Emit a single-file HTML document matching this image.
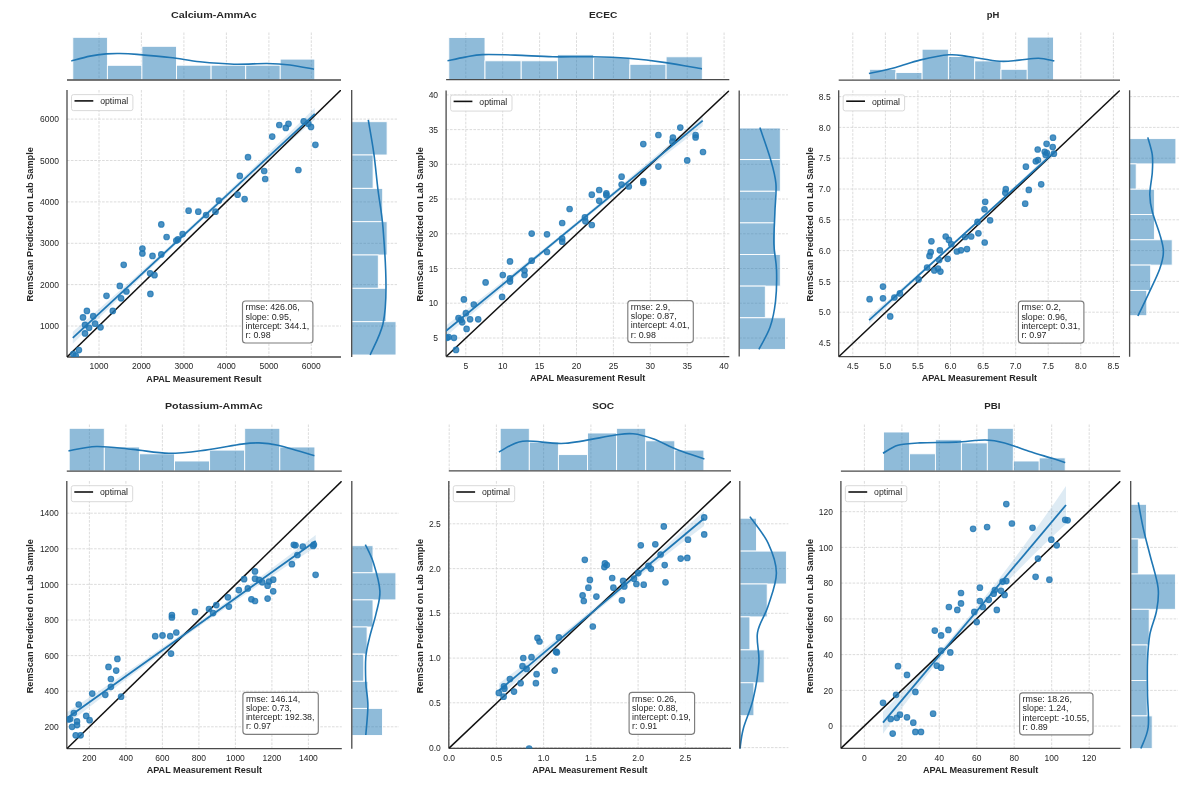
<!DOCTYPE html>
<html><head><meta charset="utf-8"><style>
html,body{margin:0;padding:0;background:#fff;}
svg{display:block;filter:blur(0.45px);}
</style></head><body>
<svg width="1197" height="785" viewBox="0 0 1197 785" font-family='"Liberation Sans", sans-serif'>
<rect width="1197" height="785" fill="#fff"/>
<text x="213.9" y="18.0" font-size="9.9" textLength="85.9" lengthAdjust="spacingAndGlyphs" font-weight="bold" text-anchor="middle" fill="#262626">Calcium-AmmAc</text>
<path d="M99.0,90.0V357.0M99.0,32.5V80.0M141.4,90.0V357.0M141.4,32.5V80.0M183.9,90.0V357.0M183.9,32.5V80.0M226.4,90.0V357.0M226.4,32.5V80.0M268.9,90.0V357.0M268.9,32.5V80.0M311.3,90.0V357.0M311.3,32.5V80.0M67.0,326.0H341.0M351.7,326.0H397.0M67.0,284.6H341.0M351.7,284.6H397.0M67.0,243.3H341.0M351.7,243.3H397.0M67.0,201.9H341.0M351.7,201.9H397.0M67.0,160.5H341.0M351.7,160.5H397.0M67.0,119.1H341.0M351.7,119.1H397.0" stroke="#d8d8d8" stroke-width="0.9" stroke-dasharray="2.6 1.3" fill="none"/>
<rect x="72.8" y="37.3" width="34.6" height="42.7" fill="#1f77b4" fill-opacity="0.5" stroke="#fff" stroke-width="0.9"/>
<rect x="107.4" y="65.3" width="34.6" height="14.7" fill="#1f77b4" fill-opacity="0.5" stroke="#fff" stroke-width="0.9"/>
<rect x="141.9" y="46.3" width="34.6" height="33.7" fill="#1f77b4" fill-opacity="0.5" stroke="#fff" stroke-width="0.9"/>
<rect x="176.5" y="65.2" width="34.6" height="14.8" fill="#1f77b4" fill-opacity="0.5" stroke="#fff" stroke-width="0.9"/>
<rect x="211.1" y="65.2" width="34.6" height="14.8" fill="#1f77b4" fill-opacity="0.5" stroke="#fff" stroke-width="0.9"/>
<rect x="245.7" y="65.2" width="34.6" height="14.8" fill="#1f77b4" fill-opacity="0.5" stroke="#fff" stroke-width="0.9"/>
<rect x="280.2" y="59.1" width="34.6" height="20.9" fill="#1f77b4" fill-opacity="0.5" stroke="#fff" stroke-width="0.9"/>
<path d="M71.3,60.9 C74.4,60.1 84.2,57.3 90.0,56.1 C95.8,54.9 101.0,54.3 106.0,53.9 C111.0,53.5 114.8,53.4 120.0,53.5 C125.2,53.6 128.7,53.7 137.0,54.4 C145.3,55.1 159.5,56.3 170.0,57.5 C180.5,58.7 189.3,60.7 200.0,61.8 C210.7,62.9 222.8,63.9 234.0,64.2 C245.2,64.5 257.7,63.4 267.0,63.5 C276.3,63.6 282.2,64.0 290.0,65.0 C297.8,66.0 310.0,68.5 314.0,69.2" stroke="#1f77b4" stroke-width="1.6" fill="none"/>
<rect x="351.7" y="121.7" width="35.4" height="33.3" fill="#1f77b4" fill-opacity="0.5" stroke="#fff" stroke-width="0.9"/>
<rect x="351.7" y="155.0" width="21.4" height="33.3" fill="#1f77b4" fill-opacity="0.5" stroke="#fff" stroke-width="0.9"/>
<rect x="351.7" y="188.4" width="31.0" height="33.3" fill="#1f77b4" fill-opacity="0.5" stroke="#fff" stroke-width="0.9"/>
<rect x="351.7" y="221.7" width="35.4" height="33.3" fill="#1f77b4" fill-opacity="0.5" stroke="#fff" stroke-width="0.9"/>
<rect x="351.7" y="255.0" width="26.6" height="33.3" fill="#1f77b4" fill-opacity="0.5" stroke="#fff" stroke-width="0.9"/>
<rect x="351.7" y="288.3" width="34.3" height="33.3" fill="#1f77b4" fill-opacity="0.5" stroke="#fff" stroke-width="0.9"/>
<rect x="351.7" y="321.7" width="44.3" height="33.3" fill="#1f77b4" fill-opacity="0.5" stroke="#fff" stroke-width="0.9"/>
<path d="M368.3,119.9 C369.2,125.6 372.3,142.2 373.9,153.9 C375.5,165.6 376.5,177.7 378.0,190.0 C379.5,202.3 381.7,211.6 383.0,227.7 C384.3,243.8 386.0,270.8 386.0,286.8 C386.0,302.8 385.6,312.3 383.0,323.7 C380.4,335.1 372.3,349.8 370.2,355.0" stroke="#1f77b4" stroke-width="1.6" fill="none"/>
<path d="M67.0,357.0H341.0 M67.0,90.0V357.0 M67.0,80.0H341.0 M351.7,90.0V357.0" stroke="#4a4a4a" stroke-width="1.3" fill="none"/>
<clipPath id="c1"><rect x="67.0" y="90.0" width="274.0" height="267.0"/></clipPath>
<g clip-path="url(#c1)">
<path d="M72.8,331.8 L87.9,318.7 L103.0,305.5 L118.2,292.1 L133.3,278.7 L148.4,265.1 L163.6,251.4 L178.7,237.5 L193.8,223.6 L208.9,209.5 L224.1,195.4 L239.2,181.1 L254.3,166.7 L269.4,152.1 L284.6,137.5 L299.7,122.7 L314.8,107.8 L314.8,119.8 L299.7,132.9 L284.6,146.1 L269.4,159.5 L254.3,173.0 L239.2,186.5 L224.1,200.2 L208.9,214.1 L193.8,228.0 L178.7,242.1 L163.6,256.2 L148.4,270.5 L133.3,284.9 L118.2,299.5 L103.0,314.1 L87.9,328.9 L72.8,343.8Z" fill="#1f77b4" fill-opacity="0.15" stroke="none"/>
<path d="M67.0,357.0L341.0,90.0" stroke="#111" stroke-width="1.5"/>
<g fill="#1f77b4" fill-opacity="0.8" stroke="#1f77b4" stroke-opacity="0.8" stroke-width="1.1"><circle cx="279.3" cy="125.0" r="2.8"/><circle cx="285.8" cy="127.9" r="2.8"/><circle cx="288.5" cy="123.8" r="2.8"/><circle cx="303.7" cy="121.3" r="2.8"/><circle cx="308.3" cy="123.8" r="2.8"/><circle cx="311.0" cy="126.9" r="2.8"/><circle cx="272.2" cy="136.6" r="2.8"/><circle cx="315.4" cy="144.8" r="2.8"/><circle cx="248.0" cy="157.2" r="2.8"/><circle cx="264.2" cy="171.0" r="2.8"/><circle cx="265.2" cy="179.0" r="2.8"/><circle cx="298.4" cy="170.0" r="2.8"/><circle cx="239.8" cy="175.9" r="2.8"/><circle cx="237.6" cy="194.7" r="2.8"/><circle cx="244.6" cy="199.1" r="2.8"/><circle cx="218.9" cy="200.6" r="2.8"/><circle cx="215.5" cy="211.7" r="2.8"/><circle cx="206.1" cy="215.1" r="2.8"/><circle cx="198.3" cy="211.7" r="2.8"/><circle cx="188.6" cy="210.7" r="2.8"/><circle cx="161.3" cy="224.4" r="2.8"/><circle cx="166.6" cy="237.0" r="2.8"/><circle cx="176.3" cy="240.6" r="2.8"/><circle cx="178.0" cy="239.4" r="2.8"/><circle cx="182.6" cy="234.1" r="2.8"/><circle cx="142.4" cy="248.6" r="2.8"/><circle cx="142.4" cy="253.4" r="2.8"/><circle cx="152.5" cy="255.9" r="2.8"/><circle cx="161.3" cy="254.4" r="2.8"/><circle cx="123.7" cy="264.8" r="2.8"/><circle cx="150.1" cy="273.3" r="2.8"/><circle cx="154.5" cy="275.2" r="2.8"/><circle cx="119.8" cy="285.9" r="2.8"/><circle cx="126.4" cy="291.5" r="2.8"/><circle cx="121.1" cy="298.3" r="2.8"/><circle cx="150.4" cy="293.9" r="2.8"/><circle cx="106.5" cy="295.8" r="2.8"/><circle cx="112.8" cy="310.9" r="2.8"/><circle cx="86.9" cy="310.9" r="2.8"/><circle cx="83.0" cy="317.4" r="2.8"/><circle cx="93.2" cy="316.2" r="2.8"/><circle cx="85.0" cy="324.9" r="2.8"/><circle cx="89.1" cy="327.8" r="2.8"/><circle cx="95.1" cy="323.7" r="2.8"/><circle cx="100.5" cy="327.3" r="2.8"/><circle cx="85.0" cy="333.4" r="2.8"/><circle cx="78.9" cy="350.1" r="2.8"/><circle cx="73.3" cy="354.0" r="2.8"/><circle cx="75.7" cy="355.7" r="2.8"/></g>
<path d="M72.8,337.8L314.8,113.8" stroke="#1f77b4" stroke-width="1.8"/>
</g>
<text x="99.0" y="369.3" font-size="8.5" text-anchor="middle" fill="#262626">1000</text>
<text x="141.4" y="369.3" font-size="8.5" text-anchor="middle" fill="#262626">2000</text>
<text x="183.9" y="369.3" font-size="8.5" text-anchor="middle" fill="#262626">3000</text>
<text x="226.4" y="369.3" font-size="8.5" text-anchor="middle" fill="#262626">4000</text>
<text x="268.9" y="369.3" font-size="8.5" text-anchor="middle" fill="#262626">5000</text>
<text x="311.3" y="369.3" font-size="8.5" text-anchor="middle" fill="#262626">6000</text>
<text x="59.0" y="329.1" font-size="8.5" text-anchor="end" fill="#262626">1000</text>
<text x="59.0" y="287.7" font-size="8.5" text-anchor="end" fill="#262626">2000</text>
<text x="59.0" y="246.4" font-size="8.5" text-anchor="end" fill="#262626">3000</text>
<text x="59.0" y="205.0" font-size="8.5" text-anchor="end" fill="#262626">4000</text>
<text x="59.0" y="163.6" font-size="8.5" text-anchor="end" fill="#262626">5000</text>
<text x="59.0" y="122.2" font-size="8.5" text-anchor="end" fill="#262626">6000</text>
<text x="204.0" y="381.5" font-size="8.5" textLength="115.3" lengthAdjust="spacingAndGlyphs" font-weight="bold" text-anchor="middle" fill="#262626">APAL Measurement Result</text>
<text transform="translate(32.6,224.3) rotate(-90)" font-size="9.0" textLength="154.3" lengthAdjust="spacingAndGlyphs" font-weight="bold" text-anchor="middle" fill="#262626">RemScan Predicted on Lab Sample</text>
<rect x="71.5" y="94.6" width="61.4" height="16" rx="2" fill="#fff" fill-opacity="0.85" stroke="#d5d5d5" stroke-width="0.9"/>
<path d="M74.5,100.9h18.8" stroke="#111" stroke-width="1.6"/>
<text x="100.2" y="104.2" font-size="8.7" fill="#262626">optimal</text>
<rect x="242.5" y="301.0" width="70.4" height="42.0" rx="3" fill="#fff" fill-opacity="0.9" stroke="#7d7d7d" stroke-width="1.15"/>
<text x="245.5" y="310.3" font-size="8.9" fill="#262626">rmse: 426.06,</text>
<text x="245.5" y="319.6" font-size="8.9" fill="#262626">slope: 0.95,</text>
<text x="245.5" y="328.8" font-size="8.9" fill="#262626">intercept: 344.1,</text>
<text x="245.5" y="338.1" font-size="8.9" fill="#262626">r: 0.98</text>
<text x="603.2" y="18.0" font-size="9.9" textLength="28.2" lengthAdjust="spacingAndGlyphs" font-weight="bold" text-anchor="middle" fill="#262626">ECEC</text>
<path d="M465.8,90.5V356.6M465.8,32.5V79.6M502.7,90.5V356.6M502.7,32.5V79.6M539.6,90.5V356.6M539.6,32.5V79.6M576.5,90.5V356.6M576.5,32.5V79.6M613.4,90.5V356.6M613.4,32.5V79.6M650.3,90.5V356.6M650.3,32.5V79.6M687.2,90.5V356.6M687.2,32.5V79.6M724.1,90.5V356.6M724.1,32.5V79.6M446.1,338.0H729.3M739.2,338.0H788.0M446.1,303.2H729.3M739.2,303.2H788.0M446.1,268.5H729.3M739.2,268.5H788.0M446.1,233.8H729.3M739.2,233.8H788.0M446.1,199.0H729.3M739.2,199.0H788.0M446.1,164.3H729.3M739.2,164.3H788.0M446.1,129.6H729.3M739.2,129.6H788.0M446.1,94.9H729.3M739.2,94.9H788.0" stroke="#d8d8d8" stroke-width="0.9" stroke-dasharray="2.6 1.3" fill="none"/>
<rect x="448.8" y="37.5" width="36.2" height="42.1" fill="#1f77b4" fill-opacity="0.5" stroke="#fff" stroke-width="0.9"/>
<rect x="485.0" y="60.8" width="36.2" height="18.8" fill="#1f77b4" fill-opacity="0.5" stroke="#fff" stroke-width="0.9"/>
<rect x="521.2" y="60.8" width="36.2" height="18.8" fill="#1f77b4" fill-opacity="0.5" stroke="#fff" stroke-width="0.9"/>
<rect x="557.4" y="54.6" width="36.2" height="25.0" fill="#1f77b4" fill-opacity="0.5" stroke="#fff" stroke-width="0.9"/>
<rect x="593.7" y="57.6" width="36.2" height="22.0" fill="#1f77b4" fill-opacity="0.5" stroke="#fff" stroke-width="0.9"/>
<rect x="629.9" y="64.3" width="36.2" height="15.3" fill="#1f77b4" fill-opacity="0.5" stroke="#fff" stroke-width="0.9"/>
<rect x="666.1" y="56.8" width="36.2" height="22.8" fill="#1f77b4" fill-opacity="0.5" stroke="#fff" stroke-width="0.9"/>
<path d="M447.5,60.8 C450.4,60.2 459.2,58.1 465.1,57.1 C471.0,56.1 474.2,54.9 482.6,54.6 C491.0,54.3 503.5,54.7 515.2,55.1 C526.9,55.5 540.3,56.5 552.8,56.8 C565.3,57.1 577.9,56.5 590.4,56.8 C602.9,57.0 615.5,57.3 628.0,58.3 C640.5,59.3 653.3,60.8 665.6,62.6 C677.9,64.4 695.9,67.9 701.9,68.9" stroke="#1f77b4" stroke-width="1.6" fill="none"/>
<rect x="739.2" y="128.0" width="41.1" height="31.6" fill="#1f77b4" fill-opacity="0.5" stroke="#fff" stroke-width="0.9"/>
<rect x="739.2" y="159.6" width="41.1" height="31.6" fill="#1f77b4" fill-opacity="0.5" stroke="#fff" stroke-width="0.9"/>
<rect x="739.2" y="191.3" width="36.3" height="31.6" fill="#1f77b4" fill-opacity="0.5" stroke="#fff" stroke-width="0.9"/>
<rect x="739.2" y="222.9" width="36.3" height="31.6" fill="#1f77b4" fill-opacity="0.5" stroke="#fff" stroke-width="0.9"/>
<rect x="739.2" y="254.5" width="41.1" height="31.6" fill="#1f77b4" fill-opacity="0.5" stroke="#fff" stroke-width="0.9"/>
<rect x="739.2" y="286.1" width="26.1" height="31.6" fill="#1f77b4" fill-opacity="0.5" stroke="#fff" stroke-width="0.9"/>
<rect x="739.2" y="317.8" width="46.3" height="31.6" fill="#1f77b4" fill-opacity="0.5" stroke="#fff" stroke-width="0.9"/>
<path d="M759.9,127.6 C761.6,132.7 767.4,148.6 770.1,157.9 C772.8,167.2 775.1,174.4 775.9,183.4 C776.7,192.4 775.2,202.0 774.9,212.1 C774.6,222.2 773.6,234.5 773.9,244.1 C774.2,253.7 776.2,260.0 776.5,269.6 C776.8,279.2 776.6,291.9 775.5,301.5 C774.4,311.1 772.9,319.0 770.1,327.0 C767.3,335.0 760.8,345.7 758.9,349.4" stroke="#1f77b4" stroke-width="1.6" fill="none"/>
<path d="M446.1,356.6H729.3 M446.1,90.5V356.6 M446.1,79.6H729.3 M739.2,90.5V356.6" stroke="#4a4a4a" stroke-width="1.3" fill="none"/>
<clipPath id="c2"><rect x="446.1" y="90.5" width="283.2" height="266.1"/></clipPath>
<g clip-path="url(#c2)">
<path d="M445.9,325.5 L461.9,313.2 L478.0,300.7 L494.1,288.2 L510.1,275.5 L526.1,262.8 L542.2,249.9 L558.2,236.9 L574.3,223.8 L590.4,210.6 L606.4,197.3 L622.5,183.9 L638.5,170.3 L654.6,156.7 L670.6,142.9 L686.7,129.1 L702.7,115.1 L702.7,126.1 L686.7,138.4 L670.6,150.9 L654.6,163.4 L638.5,176.1 L622.5,188.8 L606.4,201.7 L590.4,214.7 L574.3,227.8 L558.2,241.0 L542.2,254.3 L526.1,267.7 L510.1,281.3 L494.1,294.9 L478.0,308.7 L461.9,322.5 L445.9,336.5Z" fill="#1f77b4" fill-opacity="0.15" stroke="none"/>
<path d="M446.1,356.6L729.3,90.5" stroke="#111" stroke-width="1.5"/>
<g fill="#1f77b4" fill-opacity="0.8" stroke="#1f77b4" stroke-opacity="0.8" stroke-width="1.1"><circle cx="680.3" cy="127.6" r="2.8"/><circle cx="658.4" cy="135.0" r="2.8"/><circle cx="672.9" cy="137.5" r="2.8"/><circle cx="672.4" cy="141.7" r="2.8"/><circle cx="695.6" cy="135.0" r="2.8"/><circle cx="695.6" cy="137.5" r="2.8"/><circle cx="643.3" cy="144.1" r="2.8"/><circle cx="703.0" cy="152.0" r="2.8"/><circle cx="687.2" cy="160.4" r="2.8"/><circle cx="658.4" cy="166.6" r="2.8"/><circle cx="621.6" cy="176.7" r="2.8"/><circle cx="621.6" cy="184.6" r="2.8"/><circle cx="628.8" cy="186.5" r="2.8"/><circle cx="643.3" cy="181.1" r="2.8"/><circle cx="643.3" cy="182.8" r="2.8"/><circle cx="599.2" cy="190.0" r="2.8"/><circle cx="591.8" cy="194.7" r="2.8"/><circle cx="606.4" cy="193.4" r="2.8"/><circle cx="606.4" cy="195.2" r="2.8"/><circle cx="599.2" cy="200.8" r="2.8"/><circle cx="569.6" cy="209.0" r="2.8"/><circle cx="562.2" cy="223.0" r="2.8"/><circle cx="584.9" cy="217.3" r="2.8"/><circle cx="585.4" cy="221.3" r="2.8"/><circle cx="591.8" cy="225.0" r="2.8"/><circle cx="531.7" cy="233.6" r="2.8"/><circle cx="547.0" cy="234.3" r="2.8"/><circle cx="562.2" cy="238.5" r="2.8"/><circle cx="562.2" cy="241.7" r="2.8"/><circle cx="547.0" cy="252.0" r="2.8"/><circle cx="531.7" cy="260.7" r="2.8"/><circle cx="510.0" cy="261.4" r="2.8"/><circle cx="524.5" cy="270.5" r="2.8"/><circle cx="524.5" cy="275.0" r="2.8"/><circle cx="502.8" cy="275.0" r="2.8"/><circle cx="510.0" cy="278.4" r="2.8"/><circle cx="510.0" cy="281.6" r="2.8"/><circle cx="485.6" cy="282.4" r="2.8"/><circle cx="502.1" cy="296.9" r="2.8"/><circle cx="463.9" cy="299.4" r="2.8"/><circle cx="473.8" cy="304.5" r="2.8"/><circle cx="465.9" cy="313.2" r="2.8"/><circle cx="458.5" cy="318.1" r="2.8"/><circle cx="460.9" cy="319.8" r="2.8"/><circle cx="462.2" cy="322.3" r="2.8"/><circle cx="470.1" cy="319.3" r="2.8"/><circle cx="478.2" cy="319.3" r="2.8"/><circle cx="466.6" cy="328.9" r="2.8"/><circle cx="448.6" cy="337.1" r="2.8"/><circle cx="454.0" cy="337.8" r="2.8"/><circle cx="446.9" cy="337.8" r="2.8"/><circle cx="456.0" cy="349.9" r="2.8"/></g>
<path d="M445.9,331.0L702.7,120.6" stroke="#1f77b4" stroke-width="1.8"/>
</g>
<text x="465.8" y="368.9" font-size="8.5" text-anchor="middle" fill="#262626">5</text>
<text x="502.7" y="368.9" font-size="8.5" text-anchor="middle" fill="#262626">10</text>
<text x="539.6" y="368.9" font-size="8.5" text-anchor="middle" fill="#262626">15</text>
<text x="576.5" y="368.9" font-size="8.5" text-anchor="middle" fill="#262626">20</text>
<text x="613.4" y="368.9" font-size="8.5" text-anchor="middle" fill="#262626">25</text>
<text x="650.3" y="368.9" font-size="8.5" text-anchor="middle" fill="#262626">30</text>
<text x="687.2" y="368.9" font-size="8.5" text-anchor="middle" fill="#262626">35</text>
<text x="724.1" y="368.9" font-size="8.5" text-anchor="middle" fill="#262626">40</text>
<text x="438.1" y="341.1" font-size="8.5" text-anchor="end" fill="#262626">5</text>
<text x="438.1" y="306.3" font-size="8.5" text-anchor="end" fill="#262626">10</text>
<text x="438.1" y="271.6" font-size="8.5" text-anchor="end" fill="#262626">15</text>
<text x="438.1" y="236.9" font-size="8.5" text-anchor="end" fill="#262626">20</text>
<text x="438.1" y="202.1" font-size="8.5" text-anchor="end" fill="#262626">25</text>
<text x="438.1" y="167.4" font-size="8.5" text-anchor="end" fill="#262626">30</text>
<text x="438.1" y="132.7" font-size="8.5" text-anchor="end" fill="#262626">35</text>
<text x="438.1" y="98.0" font-size="8.5" text-anchor="end" fill="#262626">40</text>
<text x="587.7" y="381.1" font-size="8.5" textLength="115.3" lengthAdjust="spacingAndGlyphs" font-weight="bold" text-anchor="middle" fill="#262626">APAL Measurement Result</text>
<text transform="translate(422.6,224.3) rotate(-90)" font-size="9.0" textLength="154.3" lengthAdjust="spacingAndGlyphs" font-weight="bold" text-anchor="middle" fill="#262626">RemScan Predicted on Lab Sample</text>
<rect x="450.6" y="95.1" width="61.4" height="16" rx="2" fill="#fff" fill-opacity="0.85" stroke="#d5d5d5" stroke-width="0.9"/>
<path d="M453.6,101.4h18.8" stroke="#111" stroke-width="1.6"/>
<text x="479.3" y="104.7" font-size="8.7" fill="#262626">optimal</text>
<rect x="627.8" y="300.6" width="65.5" height="42.0" rx="3" fill="#fff" fill-opacity="0.9" stroke="#7d7d7d" stroke-width="1.15"/>
<text x="630.8" y="309.9" font-size="8.9" fill="#262626">rmse: 2.9,</text>
<text x="630.8" y="319.2" font-size="8.9" fill="#262626">slope: 0.87,</text>
<text x="630.8" y="328.4" font-size="8.9" fill="#262626">intercept: 4.01,</text>
<text x="630.8" y="337.7" font-size="8.9" fill="#262626">r: 0.98</text>
<text x="993.0" y="18.0" font-size="9.9" textLength="12.6" lengthAdjust="spacingAndGlyphs" font-weight="bold" text-anchor="middle" fill="#262626">pH</text>
<path d="M852.8,90.3V356.7M852.8,32.5V80.1M885.4,90.3V356.7M885.4,32.5V80.1M917.9,90.3V356.7M917.9,32.5V80.1M950.5,90.3V356.7M950.5,32.5V80.1M983.1,90.3V356.7M983.1,32.5V80.1M1015.7,90.3V356.7M1015.7,32.5V80.1M1048.2,90.3V356.7M1048.2,32.5V80.1M1080.8,90.3V356.7M1080.8,32.5V80.1M1113.4,90.3V356.7M1113.4,32.5V80.1M838.7,343.0H1120.0M1129.6,343.0H1179.0M838.7,312.2H1120.0M1129.6,312.2H1179.0M838.7,281.4H1120.0M1129.6,281.4H1179.0M838.7,250.6H1120.0M1129.6,250.6H1179.0M838.7,219.8H1120.0M1129.6,219.8H1179.0M838.7,189.0H1120.0M1129.6,189.0H1179.0M838.7,158.2H1120.0M1129.6,158.2H1179.0M838.7,127.4H1120.0M1129.6,127.4H1179.0M838.7,96.6H1120.0M1129.6,96.6H1179.0" stroke="#d8d8d8" stroke-width="0.9" stroke-dasharray="2.6 1.3" fill="none"/>
<rect x="869.6" y="69.3" width="26.3" height="10.8" fill="#1f77b4" fill-opacity="0.5" stroke="#fff" stroke-width="0.9"/>
<rect x="895.9" y="72.5" width="26.3" height="7.6" fill="#1f77b4" fill-opacity="0.5" stroke="#fff" stroke-width="0.9"/>
<rect x="922.1" y="49.2" width="26.3" height="30.9" fill="#1f77b4" fill-opacity="0.5" stroke="#fff" stroke-width="0.9"/>
<rect x="948.4" y="56.5" width="26.3" height="23.6" fill="#1f77b4" fill-opacity="0.5" stroke="#fff" stroke-width="0.9"/>
<rect x="974.7" y="60.9" width="26.3" height="19.2" fill="#1f77b4" fill-opacity="0.5" stroke="#fff" stroke-width="0.9"/>
<rect x="1001.0" y="69.3" width="26.3" height="10.8" fill="#1f77b4" fill-opacity="0.5" stroke="#fff" stroke-width="0.9"/>
<rect x="1027.2" y="37.1" width="26.3" height="43.0" fill="#1f77b4" fill-opacity="0.5" stroke="#fff" stroke-width="0.9"/>
<path d="M868.9,73.5 C873.4,72.5 887.1,69.6 895.6,67.4 C904.1,65.2 910.9,62.2 919.8,60.1 C928.7,58.0 940.8,55.4 948.9,54.8 C957.0,54.2 959.7,55.4 968.2,56.5 C976.7,57.6 991.2,60.7 999.7,61.3 C1008.2,61.9 1012.6,60.6 1019.1,60.1 C1025.6,59.6 1032.6,58.1 1038.5,58.2 C1044.4,58.3 1051.7,60.5 1054.3,60.9" stroke="#1f77b4" stroke-width="1.6" fill="none"/>
<rect x="1129.6" y="138.6" width="46.3" height="25.3" fill="#1f77b4" fill-opacity="0.5" stroke="#fff" stroke-width="0.9"/>
<rect x="1129.6" y="163.9" width="6.6" height="25.3" fill="#1f77b4" fill-opacity="0.5" stroke="#fff" stroke-width="0.9"/>
<rect x="1129.6" y="189.2" width="24.8" height="25.3" fill="#1f77b4" fill-opacity="0.5" stroke="#fff" stroke-width="0.9"/>
<rect x="1129.6" y="214.5" width="24.8" height="25.3" fill="#1f77b4" fill-opacity="0.5" stroke="#fff" stroke-width="0.9"/>
<rect x="1129.6" y="239.8" width="42.6" height="25.3" fill="#1f77b4" fill-opacity="0.5" stroke="#fff" stroke-width="0.9"/>
<rect x="1129.6" y="265.1" width="21.1" height="25.3" fill="#1f77b4" fill-opacity="0.5" stroke="#fff" stroke-width="0.9"/>
<rect x="1129.6" y="290.4" width="17.2" height="25.3" fill="#1f77b4" fill-opacity="0.5" stroke="#fff" stroke-width="0.9"/>
<path d="M1147.8,137.4 C1148.5,140.3 1151.5,149.0 1152.3,154.8 C1153.0,160.6 1152.7,165.6 1152.3,172.2 C1151.9,178.8 1149.8,187.9 1149.8,194.5 C1149.8,201.1 1150.6,205.2 1152.3,211.8 C1154.0,218.4 1157.8,227.5 1159.7,234.1 C1161.6,240.7 1163.4,245.7 1163.4,251.5 C1163.4,257.3 1162.2,261.9 1159.7,268.9 C1157.2,275.9 1152.2,285.8 1148.6,293.6 C1145.0,301.5 1139.7,312.3 1137.9,316.0" stroke="#1f77b4" stroke-width="1.6" fill="none"/>
<path d="M838.7,356.7H1120.0 M838.7,90.3V356.7 M838.7,80.1H1120.0 M1129.6,90.3V356.7" stroke="#4a4a4a" stroke-width="1.3" fill="none"/>
<clipPath id="c3"><rect x="838.7" y="90.3" width="281.3" height="266.4"/></clipPath>
<g clip-path="url(#c3)">
<path d="M869.1,316.4 L880.7,306.4 L892.3,296.4 L903.9,286.3 L915.5,276.1 L927.1,265.8 L938.7,255.5 L950.3,245.1 L962.0,234.6 L973.6,224.1 L985.2,213.5 L996.8,202.9 L1008.4,192.1 L1020.0,181.3 L1031.6,170.4 L1043.2,159.5 L1054.8,148.5 L1054.8,154.9 L1043.2,165.0 L1031.6,175.1 L1020.0,185.3 L1008.4,195.5 L996.8,205.9 L985.2,216.2 L973.6,226.7 L962.0,237.2 L950.3,247.9 L938.7,258.5 L927.1,269.3 L915.5,280.1 L903.9,291.0 L892.3,301.9 L880.7,312.9 L869.1,324.0Z" fill="#1f77b4" fill-opacity="0.15" stroke="none"/>
<path d="M838.7,356.7L1120.0,90.3" stroke="#111" stroke-width="1.5"/>
<g fill="#1f77b4" fill-opacity="0.8" stroke="#1f77b4" stroke-opacity="0.8" stroke-width="1.1"><circle cx="1053.0" cy="137.7" r="2.8"/><circle cx="1046.6" cy="143.8" r="2.8"/><circle cx="1037.7" cy="149.5" r="2.8"/><circle cx="1044.7" cy="151.8" r="2.8"/><circle cx="1046.9" cy="153.0" r="2.8"/><circle cx="1052.7" cy="147.0" r="2.8"/><circle cx="1053.9" cy="153.7" r="2.8"/><circle cx="1045.7" cy="154.9" r="2.8"/><circle cx="1035.8" cy="161.3" r="2.8"/><circle cx="1038.0" cy="160.0" r="2.8"/><circle cx="1025.9" cy="166.7" r="2.8"/><circle cx="1041.2" cy="184.3" r="2.8"/><circle cx="1028.8" cy="189.9" r="2.8"/><circle cx="1025.2" cy="203.7" r="2.8"/><circle cx="1005.8" cy="189.2" r="2.8"/><circle cx="1005.3" cy="192.8" r="2.8"/><circle cx="985.2" cy="201.8" r="2.8"/><circle cx="984.5" cy="209.3" r="2.8"/><circle cx="990.1" cy="220.3" r="2.8"/><circle cx="977.5" cy="221.9" r="2.8"/><circle cx="978.4" cy="233.3" r="2.8"/><circle cx="984.7" cy="242.5" r="2.8"/><circle cx="971.2" cy="236.5" r="2.8"/><circle cx="965.1" cy="237.0" r="2.8"/><circle cx="945.7" cy="236.5" r="2.8"/><circle cx="948.9" cy="239.9" r="2.8"/><circle cx="951.3" cy="244.2" r="2.8"/><circle cx="931.4" cy="241.3" r="2.8"/><circle cx="930.7" cy="252.2" r="2.8"/><circle cx="929.5" cy="255.9" r="2.8"/><circle cx="939.9" cy="250.3" r="2.8"/><circle cx="947.7" cy="258.8" r="2.8"/><circle cx="956.9" cy="251.5" r="2.8"/><circle cx="961.0" cy="250.3" r="2.8"/><circle cx="967.0" cy="249.1" r="2.8"/><circle cx="939.2" cy="260.0" r="2.8"/><circle cx="938.0" cy="268.5" r="2.8"/><circle cx="934.3" cy="270.4" r="2.8"/><circle cx="940.4" cy="271.6" r="2.8"/><circle cx="927.1" cy="267.5" r="2.8"/><circle cx="918.6" cy="279.4" r="2.8"/><circle cx="883.0" cy="286.6" r="2.8"/><circle cx="869.6" cy="299.2" r="2.8"/><circle cx="883.0" cy="298.3" r="2.8"/><circle cx="894.4" cy="297.5" r="2.8"/><circle cx="899.9" cy="293.4" r="2.8"/><circle cx="890.2" cy="316.4" r="2.8"/></g>
<path d="M869.1,320.2L1054.8,151.7" stroke="#1f77b4" stroke-width="1.8"/>
</g>
<text x="852.8" y="369.0" font-size="8.5" text-anchor="middle" fill="#262626">4.5</text>
<text x="885.4" y="369.0" font-size="8.5" text-anchor="middle" fill="#262626">5.0</text>
<text x="917.9" y="369.0" font-size="8.5" text-anchor="middle" fill="#262626">5.5</text>
<text x="950.5" y="369.0" font-size="8.5" text-anchor="middle" fill="#262626">6.0</text>
<text x="983.1" y="369.0" font-size="8.5" text-anchor="middle" fill="#262626">6.5</text>
<text x="1015.7" y="369.0" font-size="8.5" text-anchor="middle" fill="#262626">7.0</text>
<text x="1048.2" y="369.0" font-size="8.5" text-anchor="middle" fill="#262626">7.5</text>
<text x="1080.8" y="369.0" font-size="8.5" text-anchor="middle" fill="#262626">8.0</text>
<text x="1113.4" y="369.0" font-size="8.5" text-anchor="middle" fill="#262626">8.5</text>
<text x="830.7" y="346.1" font-size="8.5" text-anchor="end" fill="#262626">4.5</text>
<text x="830.7" y="315.3" font-size="8.5" text-anchor="end" fill="#262626">5.0</text>
<text x="830.7" y="284.5" font-size="8.5" text-anchor="end" fill="#262626">5.5</text>
<text x="830.7" y="253.7" font-size="8.5" text-anchor="end" fill="#262626">6.0</text>
<text x="830.7" y="222.9" font-size="8.5" text-anchor="end" fill="#262626">6.5</text>
<text x="830.7" y="192.1" font-size="8.5" text-anchor="end" fill="#262626">7.0</text>
<text x="830.7" y="161.3" font-size="8.5" text-anchor="end" fill="#262626">7.5</text>
<text x="830.7" y="130.5" font-size="8.5" text-anchor="end" fill="#262626">8.0</text>
<text x="830.7" y="99.7" font-size="8.5" text-anchor="end" fill="#262626">8.5</text>
<text x="979.3" y="381.2" font-size="8.5" textLength="115.3" lengthAdjust="spacingAndGlyphs" font-weight="bold" text-anchor="middle" fill="#262626">APAL Measurement Result</text>
<text transform="translate(813.3,224.3) rotate(-90)" font-size="9.0" textLength="154.3" lengthAdjust="spacingAndGlyphs" font-weight="bold" text-anchor="middle" fill="#262626">RemScan Predicted on Lab Sample</text>
<rect x="843.2" y="94.9" width="61.4" height="16" rx="2" fill="#fff" fill-opacity="0.85" stroke="#d5d5d5" stroke-width="0.9"/>
<path d="M846.2,101.2h18.8" stroke="#111" stroke-width="1.6"/>
<text x="871.9" y="104.5" font-size="8.7" fill="#262626">optimal</text>
<rect x="1018.4" y="301.1" width="65.5" height="42.0" rx="3" fill="#fff" fill-opacity="0.9" stroke="#7d7d7d" stroke-width="1.15"/>
<text x="1021.4" y="310.4" font-size="8.9" fill="#262626">rmse: 0.2,</text>
<text x="1021.4" y="319.7" font-size="8.9" fill="#262626">slope: 0.96,</text>
<text x="1021.4" y="328.9" font-size="8.9" fill="#262626">intercept: 0.31,</text>
<text x="1021.4" y="338.2" font-size="8.9" fill="#262626">r: 0.97</text>
<text x="213.9" y="409.4" font-size="9.9" textLength="97.8" lengthAdjust="spacingAndGlyphs" font-weight="bold" text-anchor="middle" fill="#262626">Potassium-AmmAc</text>
<path d="M89.4,481.1V748.7M89.4,424.5V471.1M125.9,481.1V748.7M125.9,424.5V471.1M162.4,481.1V748.7M162.4,424.5V471.1M198.9,481.1V748.7M198.9,424.5V471.1M235.4,481.1V748.7M235.4,424.5V471.1M271.9,481.1V748.7M271.9,424.5V471.1M308.4,481.1V748.7M308.4,424.5V471.1M66.8,726.8H341.8M351.8,726.8H399.0M66.8,691.2H341.8M351.8,691.2H399.0M66.8,655.6H341.8M351.8,655.6H399.0M66.8,620.0H341.8M351.8,620.0H399.0M66.8,584.4H341.8M351.8,584.4H399.0M66.8,548.8H341.8M351.8,548.8H399.0M66.8,513.2H341.8M351.8,513.2H399.0" stroke="#d8d8d8" stroke-width="0.9" stroke-dasharray="2.6 1.3" fill="none"/>
<rect x="69.2" y="428.3" width="35.1" height="42.8" fill="#1f77b4" fill-opacity="0.5" stroke="#fff" stroke-width="0.9"/>
<rect x="104.3" y="447.0" width="35.1" height="24.1" fill="#1f77b4" fill-opacity="0.5" stroke="#fff" stroke-width="0.9"/>
<rect x="139.4" y="453.8" width="35.1" height="17.3" fill="#1f77b4" fill-opacity="0.5" stroke="#fff" stroke-width="0.9"/>
<rect x="174.5" y="461.0" width="35.1" height="10.1" fill="#1f77b4" fill-opacity="0.5" stroke="#fff" stroke-width="0.9"/>
<rect x="209.6" y="450.1" width="35.1" height="21.0" fill="#1f77b4" fill-opacity="0.5" stroke="#fff" stroke-width="0.9"/>
<rect x="244.7" y="428.3" width="35.1" height="42.8" fill="#1f77b4" fill-opacity="0.5" stroke="#fff" stroke-width="0.9"/>
<rect x="279.8" y="447.0" width="35.1" height="24.1" fill="#1f77b4" fill-opacity="0.5" stroke="#fff" stroke-width="0.9"/>
<path d="M68.5,450.9 C73.1,450.2 85.6,446.8 96.3,446.5 C107.0,446.2 120.6,448.3 132.7,449.4 C144.8,450.5 156.9,453.2 169.0,453.3 C181.1,453.4 193.3,451.6 205.4,450.1 C217.5,448.6 232.8,445.3 241.7,444.1 C250.6,442.9 252.6,442.7 258.7,442.9 C264.8,443.1 268.7,443.2 278.0,445.3 C287.3,447.4 308.3,454.0 314.4,455.7" stroke="#1f77b4" stroke-width="1.6" fill="none"/>
<rect x="351.8" y="545.7" width="21.2" height="27.1" fill="#1f77b4" fill-opacity="0.5" stroke="#fff" stroke-width="0.9"/>
<rect x="351.8" y="572.8" width="44.1" height="27.1" fill="#1f77b4" fill-opacity="0.5" stroke="#fff" stroke-width="0.9"/>
<rect x="351.8" y="599.9" width="21.2" height="27.1" fill="#1f77b4" fill-opacity="0.5" stroke="#fff" stroke-width="0.9"/>
<rect x="351.8" y="627.0" width="15.3" height="27.1" fill="#1f77b4" fill-opacity="0.5" stroke="#fff" stroke-width="0.9"/>
<rect x="351.8" y="654.2" width="12.0" height="27.1" fill="#1f77b4" fill-opacity="0.5" stroke="#fff" stroke-width="0.9"/>
<rect x="351.8" y="681.3" width="16.1" height="27.1" fill="#1f77b4" fill-opacity="0.5" stroke="#fff" stroke-width="0.9"/>
<rect x="351.8" y="708.4" width="30.7" height="27.1" fill="#1f77b4" fill-opacity="0.5" stroke="#fff" stroke-width="0.9"/>
<path d="M365.3,544.6 C366.7,547.6 371.1,555.2 373.5,562.9 C375.9,570.6 379.5,582.5 379.9,591.0 C380.3,599.5 377.7,606.2 376.0,613.9 C374.3,621.5 371.4,629.7 369.7,636.9 C368.0,644.1 366.4,649.7 365.8,657.3 C365.2,664.9 365.5,674.6 365.8,682.7 C366.1,690.8 367.9,697.0 367.9,705.7 C367.9,714.4 366.1,730.1 365.8,735.0" stroke="#1f77b4" stroke-width="1.6" fill="none"/>
<path d="M66.8,748.7H341.8 M66.8,481.1V748.7 M66.8,471.1H341.8 M351.8,481.1V748.7" stroke="#4a4a4a" stroke-width="1.3" fill="none"/>
<clipPath id="c4"><rect x="66.8" y="481.1" width="275.0" height="267.6"/></clipPath>
<g clip-path="url(#c4)">
<path d="M66.8,712.3 L82.4,702.0 L97.9,691.7 L113.5,681.2 L129.0,670.6 L144.6,659.9 L160.1,649.1 L175.7,638.2 L191.2,627.1 L206.8,616.0 L222.4,604.8 L237.9,593.4 L253.5,582.0 L269.0,570.4 L284.6,558.7 L300.1,546.9 L315.7,535.0 L315.7,547.0 L300.1,557.3 L284.6,567.6 L269.0,578.1 L253.5,588.7 L237.9,599.4 L222.4,610.2 L206.8,621.1 L191.2,632.1 L175.7,643.3 L160.1,654.5 L144.6,665.9 L129.0,677.3 L113.5,688.9 L97.9,700.6 L82.4,712.4 L66.8,724.3Z" fill="#1f77b4" fill-opacity="0.15" stroke="none"/>
<path d="M66.8,748.7L341.8,481.1" stroke="#111" stroke-width="1.5"/>
<g fill="#1f77b4" fill-opacity="0.8" stroke="#1f77b4" stroke-opacity="0.8" stroke-width="1.1"><circle cx="293.8" cy="544.8" r="2.8"/><circle cx="295.5" cy="545.3" r="2.8"/><circle cx="302.8" cy="546.5" r="2.8"/><circle cx="313.2" cy="546.0" r="2.8"/><circle cx="313.9" cy="544.5" r="2.8"/><circle cx="297.4" cy="555.0" r="2.8"/><circle cx="291.9" cy="564.2" r="2.8"/><circle cx="315.6" cy="574.8" r="2.8"/><circle cx="255.0" cy="571.4" r="2.8"/><circle cx="244.1" cy="579.2" r="2.8"/><circle cx="255.0" cy="578.7" r="2.8"/><circle cx="259.1" cy="579.9" r="2.8"/><circle cx="262.3" cy="582.3" r="2.8"/><circle cx="269.1" cy="581.6" r="2.8"/><circle cx="273.2" cy="579.7" r="2.8"/><circle cx="267.6" cy="585.7" r="2.8"/><circle cx="273.2" cy="591.3" r="2.8"/><circle cx="267.6" cy="598.6" r="2.8"/><circle cx="247.8" cy="588.4" r="2.8"/><circle cx="238.8" cy="590.1" r="2.8"/><circle cx="227.9" cy="597.3" r="2.8"/><circle cx="251.4" cy="599.3" r="2.8"/><circle cx="255.0" cy="601.0" r="2.8"/><circle cx="216.3" cy="605.1" r="2.8"/><circle cx="228.9" cy="606.6" r="2.8"/><circle cx="209.0" cy="609.0" r="2.8"/><circle cx="194.9" cy="611.9" r="2.8"/><circle cx="213.1" cy="613.1" r="2.8"/><circle cx="171.9" cy="615.0" r="2.8"/><circle cx="171.9" cy="617.5" r="2.8"/><circle cx="155.2" cy="636.2" r="2.8"/><circle cx="162.5" cy="635.4" r="2.8"/><circle cx="170.2" cy="636.2" r="2.8"/><circle cx="176.3" cy="632.5" r="2.8"/><circle cx="171.0" cy="653.6" r="2.8"/><circle cx="117.4" cy="658.9" r="2.8"/><circle cx="108.5" cy="666.9" r="2.8"/><circle cx="116.2" cy="670.6" r="2.8"/><circle cx="110.9" cy="679.0" r="2.8"/><circle cx="110.9" cy="686.8" r="2.8"/><circle cx="92.2" cy="693.6" r="2.8"/><circle cx="105.3" cy="694.8" r="2.8"/><circle cx="121.1" cy="696.7" r="2.8"/><circle cx="78.7" cy="704.5" r="2.8"/><circle cx="73.8" cy="713.0" r="2.8"/><circle cx="70.2" cy="719.0" r="2.8"/><circle cx="77.0" cy="721.4" r="2.8"/><circle cx="72.1" cy="726.8" r="2.8"/><circle cx="77.0" cy="725.1" r="2.8"/><circle cx="86.2" cy="715.9" r="2.8"/><circle cx="89.6" cy="720.2" r="2.8"/><circle cx="75.7" cy="735.3" r="2.8"/><circle cx="80.6" cy="735.3" r="2.8"/><circle cx="68.5" cy="719.5" r="2.8"/></g>
<path d="M66.8,718.3L315.7,541.0" stroke="#1f77b4" stroke-width="1.8"/>
</g>
<text x="89.4" y="761.0" font-size="8.5" text-anchor="middle" fill="#262626">200</text>
<text x="125.9" y="761.0" font-size="8.5" text-anchor="middle" fill="#262626">400</text>
<text x="162.4" y="761.0" font-size="8.5" text-anchor="middle" fill="#262626">600</text>
<text x="198.9" y="761.0" font-size="8.5" text-anchor="middle" fill="#262626">800</text>
<text x="235.4" y="761.0" font-size="8.5" text-anchor="middle" fill="#262626">1000</text>
<text x="271.9" y="761.0" font-size="8.5" text-anchor="middle" fill="#262626">1200</text>
<text x="308.4" y="761.0" font-size="8.5" text-anchor="middle" fill="#262626">1400</text>
<text x="58.8" y="729.9" font-size="8.5" text-anchor="end" fill="#262626">200</text>
<text x="58.8" y="694.3" font-size="8.5" text-anchor="end" fill="#262626">400</text>
<text x="58.8" y="658.7" font-size="8.5" text-anchor="end" fill="#262626">600</text>
<text x="58.8" y="623.1" font-size="8.5" text-anchor="end" fill="#262626">800</text>
<text x="58.8" y="587.5" font-size="8.5" text-anchor="end" fill="#262626">1000</text>
<text x="58.8" y="551.9" font-size="8.5" text-anchor="end" fill="#262626">1200</text>
<text x="58.8" y="516.3" font-size="8.5" text-anchor="end" fill="#262626">1400</text>
<text x="204.3" y="773.2" font-size="8.5" textLength="115.3" lengthAdjust="spacingAndGlyphs" font-weight="bold" text-anchor="middle" fill="#262626">APAL Measurement Result</text>
<text transform="translate(33.1,616.2) rotate(-90)" font-size="9.0" textLength="154.3" lengthAdjust="spacingAndGlyphs" font-weight="bold" text-anchor="middle" fill="#262626">RemScan Predicted on Lab Sample</text>
<rect x="71.3" y="485.7" width="61.4" height="16" rx="2" fill="#fff" fill-opacity="0.85" stroke="#d5d5d5" stroke-width="0.9"/>
<path d="M74.3,492.0h18.8" stroke="#111" stroke-width="1.6"/>
<text x="100.0" y="495.3" font-size="8.7" fill="#262626">optimal</text>
<rect x="242.9" y="692.3" width="75.4" height="42.0" rx="3" fill="#fff" fill-opacity="0.9" stroke="#7d7d7d" stroke-width="1.15"/>
<text x="245.9" y="701.6" font-size="8.9" fill="#262626">rmse: 146.14,</text>
<text x="245.9" y="710.8" font-size="8.9" fill="#262626">slope: 0.73,</text>
<text x="245.9" y="720.1" font-size="8.9" fill="#262626">intercept: 192.38,</text>
<text x="245.9" y="729.3" font-size="8.9" fill="#262626">r: 0.97</text>
<text x="603.2" y="409.4" font-size="9.9" textLength="21.9" lengthAdjust="spacingAndGlyphs" font-weight="bold" text-anchor="middle" fill="#262626">SOC</text>
<path d="M449.2,481.1V748.4M449.2,424.5V470.9M496.4,481.1V748.4M496.4,424.5V470.9M543.6,481.1V748.4M543.6,424.5V470.9M590.9,481.1V748.4M590.9,424.5V470.9M638.1,481.1V748.4M638.1,424.5V470.9M685.3,481.1V748.4M685.3,424.5V470.9M448.8,747.6H731.0M739.8,747.6H788.4M448.8,702.8H731.0M739.8,702.8H788.4M448.8,658.1H731.0M739.8,658.1H788.4M448.8,613.3H731.0M739.8,613.3H788.4M448.8,568.6H731.0M739.8,568.6H788.4M448.8,523.8H731.0M739.8,523.8H788.4" stroke="#d8d8d8" stroke-width="0.9" stroke-dasharray="2.6 1.3" fill="none"/>
<rect x="500.2" y="428.3" width="29.1" height="42.6" fill="#1f77b4" fill-opacity="0.5" stroke="#fff" stroke-width="0.9"/>
<rect x="529.3" y="442.1" width="29.1" height="28.8" fill="#1f77b4" fill-opacity="0.5" stroke="#fff" stroke-width="0.9"/>
<rect x="558.4" y="454.6" width="29.1" height="16.3" fill="#1f77b4" fill-opacity="0.5" stroke="#fff" stroke-width="0.9"/>
<rect x="587.5" y="433.0" width="29.1" height="37.9" fill="#1f77b4" fill-opacity="0.5" stroke="#fff" stroke-width="0.9"/>
<rect x="616.6" y="428.3" width="29.1" height="42.6" fill="#1f77b4" fill-opacity="0.5" stroke="#fff" stroke-width="0.9"/>
<rect x="645.7" y="440.8" width="29.1" height="30.1" fill="#1f77b4" fill-opacity="0.5" stroke="#fff" stroke-width="0.9"/>
<rect x="674.8" y="450.1" width="29.1" height="20.8" fill="#1f77b4" fill-opacity="0.5" stroke="#fff" stroke-width="0.9"/>
<path d="M498.9,452.1 C502.9,450.3 511.6,442.8 522.7,441.3 C533.8,439.8 549.8,444.4 565.3,443.3 C580.8,442.2 604.1,436.6 615.4,435.0 C626.7,433.4 626.7,433.2 633.0,433.8 C639.3,434.4 645.5,436.1 653.0,438.8 C660.5,441.5 669.5,446.8 678.1,450.1 C686.7,453.5 700.0,457.4 704.4,458.9" stroke="#1f77b4" stroke-width="1.6" fill="none"/>
<rect x="739.8" y="518.2" width="16.7" height="32.9" fill="#1f77b4" fill-opacity="0.5" stroke="#fff" stroke-width="0.9"/>
<rect x="739.8" y="551.1" width="46.6" height="32.9" fill="#1f77b4" fill-opacity="0.5" stroke="#fff" stroke-width="0.9"/>
<rect x="739.8" y="584.0" width="27.4" height="32.9" fill="#1f77b4" fill-opacity="0.5" stroke="#fff" stroke-width="0.9"/>
<rect x="739.8" y="616.9" width="10.1" height="32.9" fill="#1f77b4" fill-opacity="0.5" stroke="#fff" stroke-width="0.9"/>
<rect x="739.8" y="649.9" width="24.4" height="32.9" fill="#1f77b4" fill-opacity="0.5" stroke="#fff" stroke-width="0.9"/>
<rect x="739.8" y="682.8" width="14.1" height="32.9" fill="#1f77b4" fill-opacity="0.5" stroke="#fff" stroke-width="0.9"/>
<rect x="739.8" y="715.7" width="1.2" height="32.9" fill="#1f77b4" fill-opacity="0.5" stroke="#fff" stroke-width="0.9"/>
<path d="M749.9,516.6 C752.9,521.0 763.7,533.7 768.1,543.1 C772.5,552.5 776.4,562.4 776.4,572.9 C776.4,583.4 771.2,596.1 768.1,606.1 C765.0,616.1 759.0,623.2 757.5,632.6 C756.0,642.0 759.6,651.4 758.9,662.4 C758.2,673.4 755.8,687.8 753.2,698.9 C750.6,710.0 745.5,720.4 743.3,728.7 C741.1,737.0 740.5,745.3 740.0,748.6" stroke="#1f77b4" stroke-width="1.6" fill="none"/>
<path d="M448.8,748.4H731.0 M448.8,481.1V748.4 M448.8,470.9H731.0 M739.8,481.1V748.4" stroke="#4a4a4a" stroke-width="1.3" fill="none"/>
<clipPath id="c5"><rect x="448.8" y="481.1" width="282.2" height="267.3"/></clipPath>
<g clip-path="url(#c5)">
<path d="M499.0,683.5 L511.8,673.8 L524.6,663.9 L537.4,653.9 L550.2,643.7 L563.1,633.4 L575.9,623.0 L588.7,612.4 L601.5,601.7 L614.3,590.8 L627.1,579.9 L639.9,568.7 L652.8,557.5 L665.6,546.1 L678.4,534.5 L691.2,522.8 L704.0,511.0 L704.0,526.0 L691.2,535.7 L678.4,545.5 L665.6,555.4 L652.8,565.5 L639.9,575.8 L627.1,586.1 L614.3,596.7 L601.5,607.3 L588.7,618.1 L575.9,629.0 L563.1,640.1 L550.2,651.3 L537.4,662.6 L524.6,674.1 L511.8,685.7 L499.0,697.5Z" fill="#1f77b4" fill-opacity="0.15" stroke="none"/>
<path d="M448.8,748.4L731.0,481.1" stroke="#111" stroke-width="1.5"/>
<g fill="#1f77b4" fill-opacity="0.8" stroke="#1f77b4" stroke-opacity="0.8" stroke-width="1.1"><circle cx="704.2" cy="517.4" r="2.8"/><circle cx="704.2" cy="534.4" r="2.8"/><circle cx="663.8" cy="526.4" r="2.8"/><circle cx="688.0" cy="539.7" r="2.8"/><circle cx="640.8" cy="545.3" r="2.8"/><circle cx="655.3" cy="544.3" r="2.8"/><circle cx="660.6" cy="554.5" r="2.8"/><circle cx="680.7" cy="558.6" r="2.8"/><circle cx="687.3" cy="557.9" r="2.8"/><circle cx="664.7" cy="565.1" r="2.8"/><circle cx="648.5" cy="565.9" r="2.8"/><circle cx="650.9" cy="568.8" r="2.8"/><circle cx="638.3" cy="573.1" r="2.8"/><circle cx="665.5" cy="582.3" r="2.8"/><circle cx="643.7" cy="584.7" r="2.8"/><circle cx="636.4" cy="584.0" r="2.8"/><circle cx="634.0" cy="578.7" r="2.8"/><circle cx="623.1" cy="580.9" r="2.8"/><circle cx="624.3" cy="586.4" r="2.8"/><circle cx="612.2" cy="578.0" r="2.8"/><circle cx="613.4" cy="587.7" r="2.8"/><circle cx="604.9" cy="563.4" r="2.8"/><circle cx="606.8" cy="565.1" r="2.8"/><circle cx="604.4" cy="567.1" r="2.8"/><circle cx="584.8" cy="559.8" r="2.8"/><circle cx="589.9" cy="579.9" r="2.8"/><circle cx="588.4" cy="587.7" r="2.8"/><circle cx="582.6" cy="595.4" r="2.8"/><circle cx="583.8" cy="601.0" r="2.8"/><circle cx="596.4" cy="596.6" r="2.8"/><circle cx="621.9" cy="600.3" r="2.8"/><circle cx="592.8" cy="626.5" r="2.8"/><circle cx="537.5" cy="637.9" r="2.8"/><circle cx="539.5" cy="641.5" r="2.8"/><circle cx="558.9" cy="637.4" r="2.8"/><circle cx="556.0" cy="651.7" r="2.8"/><circle cx="556.9" cy="652.4" r="2.8"/><circle cx="554.7" cy="670.6" r="2.8"/><circle cx="523.3" cy="658.0" r="2.8"/><circle cx="531.5" cy="657.2" r="2.8"/><circle cx="522.5" cy="666.2" r="2.8"/><circle cx="526.6" cy="668.9" r="2.8"/><circle cx="536.6" cy="674.2" r="2.8"/><circle cx="535.9" cy="683.2" r="2.8"/><circle cx="520.6" cy="683.2" r="2.8"/><circle cx="509.9" cy="679.0" r="2.8"/><circle cx="514.0" cy="691.6" r="2.8"/><circle cx="504.4" cy="688.7" r="2.8"/><circle cx="503.9" cy="686.3" r="2.8"/><circle cx="498.8" cy="692.9" r="2.8"/><circle cx="503.6" cy="696.7" r="2.8"/><circle cx="529.1" cy="748.6" r="2.8"/></g>
<path d="M499.0,690.5L704.0,518.5" stroke="#1f77b4" stroke-width="1.8"/>
</g>
<text x="449.2" y="760.7" font-size="8.5" text-anchor="middle" fill="#262626">0.0</text>
<text x="496.4" y="760.7" font-size="8.5" text-anchor="middle" fill="#262626">0.5</text>
<text x="543.6" y="760.7" font-size="8.5" text-anchor="middle" fill="#262626">1.0</text>
<text x="590.9" y="760.7" font-size="8.5" text-anchor="middle" fill="#262626">1.5</text>
<text x="638.1" y="760.7" font-size="8.5" text-anchor="middle" fill="#262626">2.0</text>
<text x="685.3" y="760.7" font-size="8.5" text-anchor="middle" fill="#262626">2.5</text>
<text x="440.8" y="750.7" font-size="8.5" text-anchor="end" fill="#262626">0.0</text>
<text x="440.8" y="705.9" font-size="8.5" text-anchor="end" fill="#262626">0.5</text>
<text x="440.8" y="661.2" font-size="8.5" text-anchor="end" fill="#262626">1.0</text>
<text x="440.8" y="616.4" font-size="8.5" text-anchor="end" fill="#262626">1.5</text>
<text x="440.8" y="571.7" font-size="8.5" text-anchor="end" fill="#262626">2.0</text>
<text x="440.8" y="526.9" font-size="8.5" text-anchor="end" fill="#262626">2.5</text>
<text x="589.9" y="772.9" font-size="8.5" textLength="115.3" lengthAdjust="spacingAndGlyphs" font-weight="bold" text-anchor="middle" fill="#262626">APAL Measurement Result</text>
<text transform="translate(423.3,616.0) rotate(-90)" font-size="9.0" textLength="154.3" lengthAdjust="spacingAndGlyphs" font-weight="bold" text-anchor="middle" fill="#262626">RemScan Predicted on Lab Sample</text>
<rect x="453.3" y="485.7" width="61.4" height="16" rx="2" fill="#fff" fill-opacity="0.85" stroke="#d5d5d5" stroke-width="0.9"/>
<path d="M456.3,492.0h18.8" stroke="#111" stroke-width="1.6"/>
<text x="482.0" y="495.3" font-size="8.7" fill="#262626">optimal</text>
<rect x="629.1" y="692.3" width="65.5" height="42.0" rx="3" fill="#fff" fill-opacity="0.9" stroke="#7d7d7d" stroke-width="1.15"/>
<text x="632.1" y="701.6" font-size="8.9" fill="#262626">rmse: 0.26,</text>
<text x="632.1" y="710.8" font-size="8.9" fill="#262626">slope: 0.88,</text>
<text x="632.1" y="720.1" font-size="8.9" fill="#262626">intercept: 0.19,</text>
<text x="632.1" y="729.3" font-size="8.9" fill="#262626">r: 0.91</text>
<text x="992.4" y="409.4" font-size="9.9" textLength="16.1" lengthAdjust="spacingAndGlyphs" font-weight="bold" text-anchor="middle" fill="#262626">PBI</text>
<path d="M864.4,481.1V748.4M864.4,424.5V471.1M901.9,481.1V748.4M901.9,424.5V471.1M939.3,481.1V748.4M939.3,424.5V471.1M976.8,481.1V748.4M976.8,424.5V471.1M1014.2,481.1V748.4M1014.2,424.5V471.1M1051.7,481.1V748.4M1051.7,424.5V471.1M1089.2,481.1V748.4M1089.2,424.5V471.1M840.9,726.1H1120.5M1130.7,726.1H1178.0M840.9,690.4H1120.5M1130.7,690.4H1178.0M840.9,654.6H1120.5M1130.7,654.6H1178.0M840.9,618.9H1120.5M1130.7,618.9H1178.0M840.9,583.1H1120.5M1130.7,583.1H1178.0M840.9,547.4H1120.5M1130.7,547.4H1178.0M840.9,511.7H1120.5M1130.7,511.7H1178.0" stroke="#d8d8d8" stroke-width="0.9" stroke-dasharray="2.6 1.3" fill="none"/>
<rect x="883.5" y="432.0" width="26.0" height="39.1" fill="#1f77b4" fill-opacity="0.5" stroke="#fff" stroke-width="0.9"/>
<rect x="909.5" y="453.8" width="26.0" height="17.3" fill="#1f77b4" fill-opacity="0.5" stroke="#fff" stroke-width="0.9"/>
<rect x="935.4" y="439.7" width="26.0" height="31.4" fill="#1f77b4" fill-opacity="0.5" stroke="#fff" stroke-width="0.9"/>
<rect x="961.4" y="442.9" width="26.0" height="28.2" fill="#1f77b4" fill-opacity="0.5" stroke="#fff" stroke-width="0.9"/>
<rect x="987.3" y="428.3" width="26.0" height="42.8" fill="#1f77b4" fill-opacity="0.5" stroke="#fff" stroke-width="0.9"/>
<rect x="1013.3" y="461.0" width="26.0" height="10.1" fill="#1f77b4" fill-opacity="0.5" stroke="#fff" stroke-width="0.9"/>
<rect x="1039.2" y="457.9" width="26.0" height="13.2" fill="#1f77b4" fill-opacity="0.5" stroke="#fff" stroke-width="0.9"/>
<path d="M883.0,453.3 C885.5,452.0 891.9,447.0 898.0,445.3 C904.1,443.6 910.1,443.4 919.8,442.9 C929.5,442.4 945.2,442.6 956.1,442.1 C967.0,441.6 977.1,439.9 985.2,440.0 C993.3,440.1 997.3,441.0 1004.6,442.9 C1011.9,444.8 1020.7,448.7 1028.8,451.3 C1036.9,453.9 1046.9,456.7 1053.0,458.6 C1059.1,460.5 1063.2,462.0 1065.2,462.7" stroke="#1f77b4" stroke-width="1.6" fill="none"/>
<rect x="1130.7" y="504.3" width="15.8" height="34.7" fill="#1f77b4" fill-opacity="0.5" stroke="#fff" stroke-width="0.9"/>
<rect x="1130.7" y="539.0" width="7.6" height="35.0" fill="#1f77b4" fill-opacity="0.5" stroke="#fff" stroke-width="0.9"/>
<rect x="1130.7" y="574.0" width="44.7" height="35.3" fill="#1f77b4" fill-opacity="0.5" stroke="#fff" stroke-width="0.9"/>
<rect x="1130.7" y="609.3" width="18.5" height="35.7" fill="#1f77b4" fill-opacity="0.5" stroke="#fff" stroke-width="0.9"/>
<rect x="1130.7" y="645.0" width="16.5" height="35.5" fill="#1f77b4" fill-opacity="0.5" stroke="#fff" stroke-width="0.9"/>
<rect x="1130.7" y="680.5" width="16.5" height="35.4" fill="#1f77b4" fill-opacity="0.5" stroke="#fff" stroke-width="0.9"/>
<rect x="1130.7" y="715.9" width="21.5" height="32.7" fill="#1f77b4" fill-opacity="0.5" stroke="#fff" stroke-width="0.9"/>
<path d="M1138.3,502.3 C1139.1,506.6 1141.3,519.4 1143.2,528.1 C1145.1,536.8 1147.4,544.8 1149.9,554.7 C1152.4,564.7 1157.0,578.4 1158.1,587.8 C1159.2,597.2 1157.9,603.3 1156.5,611.0 C1155.1,618.7 1151.4,625.9 1149.9,634.2 C1148.4,642.5 1147.9,650.8 1147.5,660.7 C1147.1,670.7 1147.4,682.9 1147.5,693.9 C1147.6,704.9 1149.3,717.9 1148.2,727.0 C1147.1,736.1 1142.1,745.0 1140.9,748.6" stroke="#1f77b4" stroke-width="1.6" fill="none"/>
<path d="M840.9,748.4H1120.5 M840.9,481.1V748.4 M840.9,471.1H1120.5 M1130.7,481.1V748.4" stroke="#4a4a4a" stroke-width="1.3" fill="none"/>
<clipPath id="c6"><rect x="840.9" y="481.1" width="279.6" height="267.3"/></clipPath>
<g clip-path="url(#c6)">
<path d="M883.0,711.7 L894.4,700.2 L905.9,688.3 L917.3,676.1 L928.8,663.5 L940.2,650.6 L951.6,637.4 L963.1,623.8 L974.5,609.9 L985.9,595.6 L997.4,581.0 L1008.8,566.0 L1020.2,550.7 L1031.7,535.0 L1043.1,519.0 L1054.6,502.7 L1066.0,486.0 L1066.0,524.0 L1054.6,534.5 L1043.1,545.4 L1031.7,556.6 L1020.2,568.2 L1008.8,580.1 L997.4,592.3 L985.9,604.9 L974.5,617.9 L963.1,631.1 L951.6,644.8 L940.2,658.7 L928.8,673.0 L917.3,687.7 L905.9,702.7 L894.4,718.0 L883.0,733.7Z" fill="#1f77b4" fill-opacity="0.15" stroke="none"/>
<path d="M840.9,748.4L1120.5,481.1" stroke="#111" stroke-width="1.5"/>
<g fill="#1f77b4" fill-opacity="0.8" stroke="#1f77b4" stroke-opacity="0.8" stroke-width="1.1"><circle cx="1006.3" cy="504.1" r="2.8"/><circle cx="1011.9" cy="523.5" r="2.8"/><circle cx="973.1" cy="528.8" r="2.8"/><circle cx="987.1" cy="527.1" r="2.8"/><circle cx="1032.5" cy="527.8" r="2.8"/><circle cx="1065.2" cy="519.8" r="2.8"/><circle cx="1067.6" cy="520.3" r="2.8"/><circle cx="1051.3" cy="539.7" r="2.8"/><circle cx="1056.7" cy="545.3" r="2.8"/><circle cx="1038.0" cy="558.6" r="2.8"/><circle cx="1035.6" cy="576.8" r="2.8"/><circle cx="1049.4" cy="579.7" r="2.8"/><circle cx="1002.6" cy="581.6" r="2.8"/><circle cx="1006.3" cy="581.1" r="2.8"/><circle cx="979.9" cy="587.7" r="2.8"/><circle cx="994.9" cy="590.1" r="2.8"/><circle cx="1001.0" cy="590.8" r="2.8"/><circle cx="993.7" cy="593.7" r="2.8"/><circle cx="1004.6" cy="594.9" r="2.8"/><circle cx="961.0" cy="593.0" r="2.8"/><circle cx="979.9" cy="601.0" r="2.8"/><circle cx="988.8" cy="599.8" r="2.8"/><circle cx="961.0" cy="603.4" r="2.8"/><circle cx="948.9" cy="607.0" r="2.8"/><circle cx="957.3" cy="609.9" r="2.8"/><circle cx="982.8" cy="607.0" r="2.8"/><circle cx="996.8" cy="609.9" r="2.8"/><circle cx="974.3" cy="611.9" r="2.8"/><circle cx="976.7" cy="622.1" r="2.8"/><circle cx="934.8" cy="630.6" r="2.8"/><circle cx="941.1" cy="635.4" r="2.8"/><circle cx="948.4" cy="629.9" r="2.8"/><circle cx="941.1" cy="650.7" r="2.8"/><circle cx="950.3" cy="652.4" r="2.8"/><circle cx="936.8" cy="665.7" r="2.8"/><circle cx="941.1" cy="667.7" r="2.8"/><circle cx="898.0" cy="666.2" r="2.8"/><circle cx="907.0" cy="674.9" r="2.8"/><circle cx="896.1" cy="694.8" r="2.8"/><circle cx="915.4" cy="691.9" r="2.8"/><circle cx="883.0" cy="702.8" r="2.8"/><circle cx="933.1" cy="713.7" r="2.8"/><circle cx="890.7" cy="719.0" r="2.8"/><circle cx="896.8" cy="717.8" r="2.8"/><circle cx="899.9" cy="714.7" r="2.8"/><circle cx="907.0" cy="717.3" r="2.8"/><circle cx="913.3" cy="722.7" r="2.8"/><circle cx="892.7" cy="733.6" r="2.8"/><circle cx="915.4" cy="731.9" r="2.8"/><circle cx="921.0" cy="731.9" r="2.8"/></g>
<path d="M883.0,722.7L1066.0,505.0" stroke="#1f77b4" stroke-width="1.8"/>
</g>
<text x="864.4" y="760.7" font-size="8.5" text-anchor="middle" fill="#262626">0</text>
<text x="901.9" y="760.7" font-size="8.5" text-anchor="middle" fill="#262626">20</text>
<text x="939.3" y="760.7" font-size="8.5" text-anchor="middle" fill="#262626">40</text>
<text x="976.8" y="760.7" font-size="8.5" text-anchor="middle" fill="#262626">60</text>
<text x="1014.2" y="760.7" font-size="8.5" text-anchor="middle" fill="#262626">80</text>
<text x="1051.7" y="760.7" font-size="8.5" text-anchor="middle" fill="#262626">100</text>
<text x="1089.2" y="760.7" font-size="8.5" text-anchor="middle" fill="#262626">120</text>
<text x="832.9" y="729.2" font-size="8.5" text-anchor="end" fill="#262626">0</text>
<text x="832.9" y="693.5" font-size="8.5" text-anchor="end" fill="#262626">20</text>
<text x="832.9" y="657.7" font-size="8.5" text-anchor="end" fill="#262626">40</text>
<text x="832.9" y="622.0" font-size="8.5" text-anchor="end" fill="#262626">60</text>
<text x="832.9" y="586.2" font-size="8.5" text-anchor="end" fill="#262626">80</text>
<text x="832.9" y="550.5" font-size="8.5" text-anchor="end" fill="#262626">100</text>
<text x="832.9" y="514.8" font-size="8.5" text-anchor="end" fill="#262626">120</text>
<text x="980.7" y="772.9" font-size="8.5" textLength="115.3" lengthAdjust="spacingAndGlyphs" font-weight="bold" text-anchor="middle" fill="#262626">APAL Measurement Result</text>
<text transform="translate(813.0,616.0) rotate(-90)" font-size="9.0" textLength="154.3" lengthAdjust="spacingAndGlyphs" font-weight="bold" text-anchor="middle" fill="#262626">RemScan Predicted on Lab Sample</text>
<rect x="845.4" y="485.7" width="61.4" height="16" rx="2" fill="#fff" fill-opacity="0.85" stroke="#d5d5d5" stroke-width="0.9"/>
<path d="M848.4,492.0h18.8" stroke="#111" stroke-width="1.6"/>
<text x="874.1" y="495.3" font-size="8.7" fill="#262626">optimal</text>
<rect x="1019.6" y="692.8" width="73.4" height="42.0" rx="3" fill="#fff" fill-opacity="0.9" stroke="#7d7d7d" stroke-width="1.15"/>
<text x="1022.6" y="702.1" font-size="8.9" fill="#262626">rmse: 18.26,</text>
<text x="1022.6" y="711.3" font-size="8.9" fill="#262626">slope: 1.24,</text>
<text x="1022.6" y="720.6" font-size="8.9" fill="#262626">intercept: -10.55,</text>
<text x="1022.6" y="729.8" font-size="8.9" fill="#262626">r: 0.89</text>
</svg></body></html>
